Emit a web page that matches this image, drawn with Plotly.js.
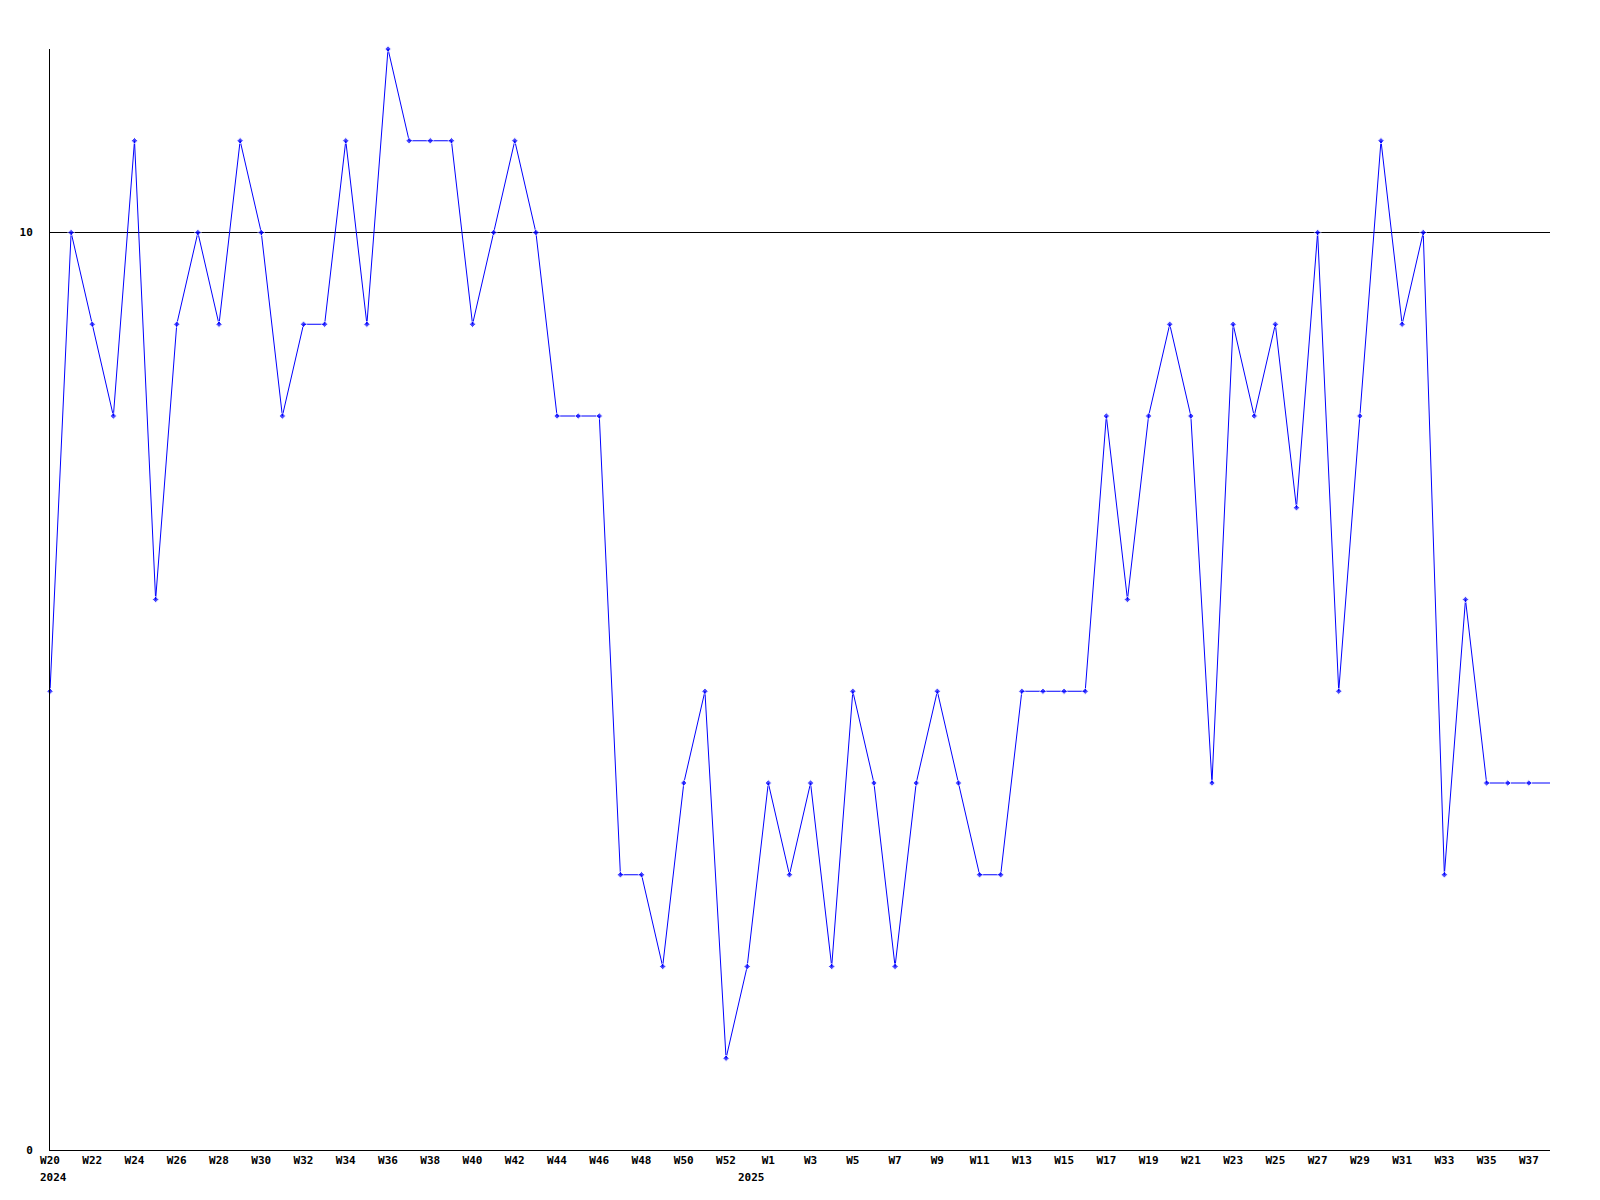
<!DOCTYPE html>
<html>
<head>
<meta charset="utf-8">
<script src="https://cdn.plot.ly/plotly-3.0.1.min.js"></script>
<style>html,body{margin:0;padding:0;background:#fff;}#chart{width:1600px;height:1200px;}</style>
</head>
<body>
<div id="chart"></div>
<script>
// Weekly points, 2024-W20 .. 2025-W38
const weeks = [
  "2024-W20","2024-W21","2024-W22","2024-W23","2024-W24","2024-W25","2024-W26","2024-W27","2024-W28","2024-W29",
  "2024-W30","2024-W31","2024-W32","2024-W33","2024-W34","2024-W35","2024-W36","2024-W37","2024-W38","2024-W39",
  "2024-W40","2024-W41","2024-W42","2024-W43","2024-W44","2024-W45","2024-W46","2024-W47","2024-W48","2024-W49",
  "2024-W50","2024-W51","2024-W52","2024-W53",
  "2025-W1","2025-W2","2025-W3","2025-W4","2025-W5","2025-W6","2025-W7","2025-W8","2025-W9","2025-W10",
  "2025-W11","2025-W12","2025-W13","2025-W14","2025-W15","2025-W16","2025-W17","2025-W18","2025-W19","2025-W20",
  "2025-W21","2025-W22","2025-W23","2025-W24","2025-W25","2025-W26","2025-W27","2025-W28","2025-W29","2025-W30",
  "2025-W31","2025-W32","2025-W33","2025-W34","2025-W35","2025-W36","2025-W37","2025-W38"
];
const values = [
  5,10,9,8,11,6,9,10,9,11,
  10,8,9,9,11,9,12,11,11,11,
  9,10,11,10,8,8,8,3,3,2,
  4,5,1,2,
  4,3,4,2,5,4,2,4,5,4,
  3,3,5,5,5,5,8,6,8,9,
  8,4,9,8,9,7,10,5,8,11,
  9,10,3,6,4,4,4,4
];
const yTicks = [0, 10];
const yearLabels = [["2024-W20","2024"],["2025-W1","2025"]];

// ticks every second week, labelled by week only
const tickVals = weeks.filter((w,i)=> i%2===0 && i < weeks.length-1);
const tickText = tickVals.map(w => w.split("-")[1]);
const markerSizes = values.map((v,i)=> i === values.length-1 ? 0 : 5);

const font = {family: "DejaVu Sans Mono, monospace", size: 11, color: "#000"};

Plotly.newPlot("chart", [{
  x: weeks, y: values, type: "scatter", mode: "lines+markers",
  line: {color: "#0000ff", width: 1},
  marker: {color: "#0000ff", size: markerSizes, symbol: "diamond"},
  cliponaxis: false, hoverinfo: "x+y"
}], {
  width: 1600, height: 1200,
  margin: {l: 50, r: 50, t: 49, b: 50},
  paper_bgcolor: "#fff", plot_bgcolor: "#fff",
  showlegend: false,
  font: font,
  xaxis: {
    type: "category", range: [0, weeks.length-1],
    tickvals: tickVals, ticktext: tickText,
    showgrid: false, zeroline: false,
    showline: true, linecolor: "#000", linewidth: 1,
    ticks: "", tickfont: {family: font.family, size: 11, color: "#000", weight: "bold"},
    tickangle: 0
  },
  yaxis: {
    range: [0, 12], tickvals: yTicks, ticktext: yTicks.map(String),
    showgrid: true, gridcolor: "#000", gridwidth: 1,
    zeroline: false, showline: true, linecolor: "#000", linewidth: 1,
    ticks: "", ticklabelstandoff: 14,
    tickfont: {family: font.family, size: 11, color: "#000", weight: "bold"}
  },
  annotations: yearLabels.map(([w, t], k) => ({
    x: w, xref: "x", y: 0, yref: "paper", yanchor: "top", yshift: -19,
    xshift: k === 1 ? -17 : 3,
    text: t, showarrow: false,
    font: {family: font.family, size: 11, color: "#000", weight: "bold"}
  }))
}, {displayModeBar: false, staticPlot: true});
</script>
</body>
</html>
